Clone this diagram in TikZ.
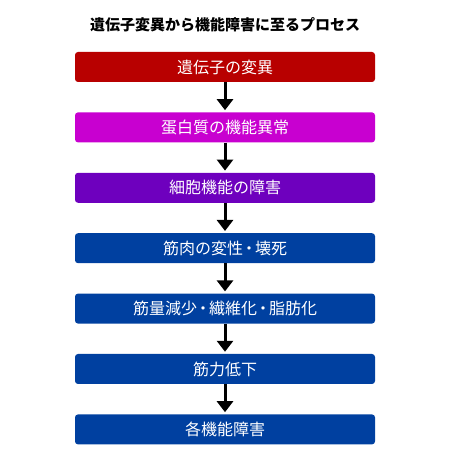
\documentclass[tikz,border=0pt]{standalone}
\usepackage{fontspec}
\setmainfont{Noto Sans CJK JP}
\usetikzlibrary{positioning}
\usetikzlibrary{arrows.meta}
\definecolor{geneRed}{HTML}{B80000}
\definecolor{protMagenta}{HTML}{C800D0}
\definecolor{cellPurple}{HTML}{6E00BE}
\definecolor{muscleBlue}{HTML}{0040A0}
\newcommand{\ndot}{\kern-2pt・\kern-2pt}

\begin{document}
\begin{tikzpicture}[x=1pt,y=1pt]
\tikzstyle{stage}=[rectangle, rounded corners=3pt, text=white, minimum width=300pt, minimum height=30pt, inner sep=0pt, font=\fontsize{16}{18}\selectfont]
\tikzstyle{flow}=[line width=3pt, shorten >=2pt, -{Triangle[width=16pt,length=11pt]}]

\useasboundingbox (0,0) rectangle (450,460);

\node (title) at (225,435) [font=\bfseries\fontsize{15}{18}\selectfont] {遺伝子変異から機能障害に至るプロセス};

\node (gene) at (225,393) [stage, fill=geneRed] {遺伝子の変異};
\node (protein) [stage, fill=protMagenta, below=30pt of gene] {蛋白質の機能異常};
\node (cell) [stage, fill=cellPurple, below=30pt of protein] {細胞機能の障害};
\node (degen) [stage, fill=muscleBlue, below=30pt of cell] {筋肉の変性\ndot 壊死};
\node (atrophy) [stage, fill=muscleBlue, below=30pt of degen] {筋量減少\ndot 繊維化\ndot 脂肪化};
\node (weak) [stage, fill=muscleBlue, below=30pt of atrophy] {筋力低下};
\node (disab) [stage, fill=muscleBlue, below=30pt of weak] {各機能障害};

\draw[flow] (gene) -- (protein);
\draw[flow] (protein) -- (cell);
\draw[flow] (cell) -- (degen);
\draw[flow] (degen) -- (atrophy);
\draw[flow] (atrophy) -- (weak);
\draw[flow] (weak) -- (disab);

\end{tikzpicture}
\end{document}
